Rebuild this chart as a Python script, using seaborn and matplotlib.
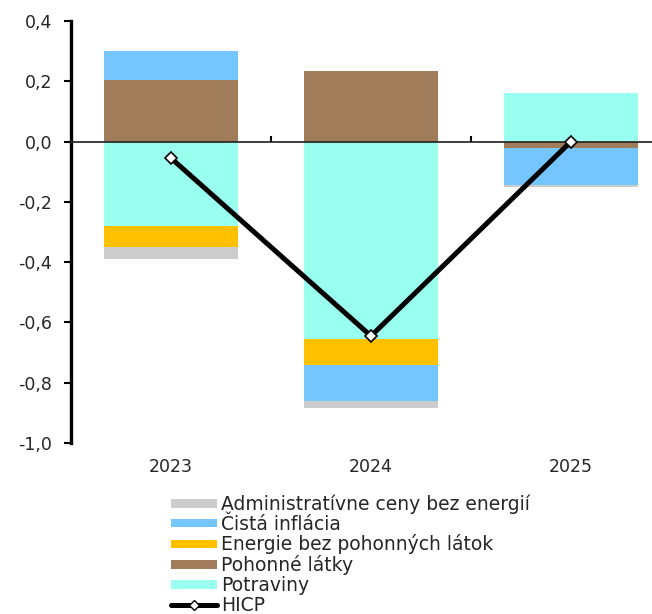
import numpy as np
import pandas as pd
import matplotlib
matplotlib.use("Agg")
import matplotlib.pyplot as plt
from matplotlib.patches import Patch
from matplotlib.lines import Line2D
import seaborn as sns

# Contributions to HICP change (p.p.)
years = ["2023", "2024", "2025"]
potraviny = [-0.28, -0.655, 0.16]
pohonne = [0.205, 0.235, -0.02]
energie = [-0.07, -0.085, 0.0]
cista = [0.095, -0.12, -0.125]
admin = [-0.038, -0.025, -0.006]
hicp = [-0.055, -0.645, 0.0]

# stacking order from zero outward
series = [
    ("Potraviny", potraviny, "#99FFEE"),
    ("Pohonné látky", pohonne, "#A07C5A"),
    ("Energie bez pohonných látok", energie, "#FFC000"),
    ("Čistá inflácia", cista, "#75C5FF"),
    ("Administratívne ceny bez energií", admin, "#CCCCCC"),
]

sns.set_theme(style="white")
plt.rcParams["font.family"] = ["DejaVu Sans"]
text_color = "#262626"

fig = plt.figure(figsize=(6.52, 6.14), dpi=100)
ax = fig.add_axes([71 / 652, 1 - 443 / 614, 600 / 652, 422 / 614])

pos_cum = np.zeros(len(years))
neg_cum = np.zeros(len(years))
for name, vals, color in series:
    vals = np.asarray(vals, dtype=float)
    bottoms = np.where(vals >= 0, pos_cum, neg_cum)
    df = pd.DataFrame({"year": years, "value": vals})
    sns.barplot(data=df, x="year", y="value", bottom=bottoms, color=color,
                width=0.667, saturation=1, linewidth=0, ax=ax, zorder=2)
    pos_cum = pos_cum + np.where(vals >= 0, vals, 0)
    neg_cum = neg_cum + np.where(vals < 0, vals, 0)

line_df = pd.DataFrame({"year": years, "value": hicp})
ax.plot(np.arange(len(years)), line_df["value"], color="black", lw=3.6,
        marker="D", markersize=6.5, markerfacecolor="white",
        markeredgecolor="black", markeredgewidth=1.2, zorder=5)

ax.set_xlim(-0.5, 2.5)
ax.set_ylim(-1.0, 0.4)
yt = np.round(np.arange(-1.0, 0.41, 0.2), 1)
ax.set_yticks(yt)
ax.set_yticklabels([f"{abs(v) if v == 0 else v:.1f}".replace(".", ",")
                    for v in yt], fontsize=12.5, color=text_color)
ax.tick_params(axis="y", direction="out", length=5, width=1.5,
               color="black", pad=8.5, left=True)
ax.set_xticks(range(len(years)))
ax.set_xticklabels(years, fontsize=12.5, color=text_color)
ax.tick_params(axis="x", length=0, pad=11)
ax.set_xlabel("")
ax.set_ylabel("")
for s in ["top", "right", "bottom"]:
    ax.spines[s].set_visible(False)
ax.spines["left"].set_color("black")
ax.spines["left"].set_linewidth(2.4)
ax.grid(False)

# zero line with category separators
sec = ax.secondary_xaxis(1.0 / 1.4)
sec.spines["bottom"].set_linewidth(1.6)
sec.spines["bottom"].set_color("black")
sec.set_xticks([0.5, 1.5])
sec.set_xticklabels([])
sec.tick_params(direction="out", length=4, width=1.5, color="black")
sec.set_zorder(4)

handles = [Patch(facecolor=c, edgecolor="none", label=n)
           for n, _, c in series[::-1]]
handles.append(Line2D([0], [0], color="black", lw=3.6, marker="D",
                      markersize=5, markerfacecolor="white",
                      markeredgecolor="black", label="HICP"))
leg = fig.legend(handles=handles, loc="upper left",
                 bbox_to_anchor=(163 / 652, 1 - 487 / 614),
                 frameon=False, fontsize=13.5, handlelength=2.5,
                 handleheight=0.32, handletextpad=0.2, labelspacing=0.04,
                 borderaxespad=0)
for t in leg.get_texts():
    t.set_color(text_color)

fig.savefig("out.png", dpi=100)
